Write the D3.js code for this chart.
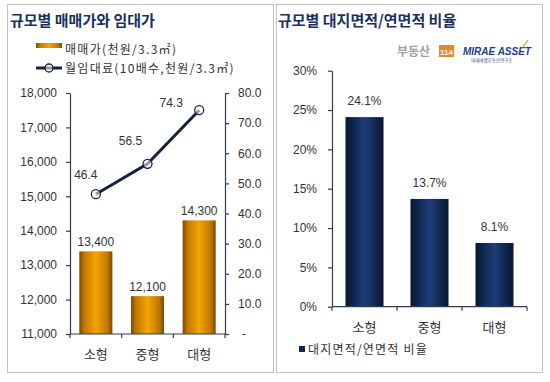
<!DOCTYPE html>
<html><head><meta charset="utf-8">
<script src="https://cdn.jsdelivr.net/npm/d3@7"></script>
<style>
body{margin:0;background:#fff;}
svg{display:block;font-family:"Liberation Sans","Noto Sans CJK KR",sans-serif;}
</style></head>
<body>
<svg id="c" width="550" height="382"></svg>
<script>
const categories = ["소형", "중형", "대형"];
const salePrice = [13400, 12100, 14300];
const rent10x = [46.4, 56.5, 74.3];
const landRatio = [0.241, 0.137, 0.081];
const leftTicks = [11000, 12000, 13000, 14000, 15000, 16000, 17000, 18000];
const rightTicks = [0, 10, 20, 30, 40, 50, 60, 70, 80];
const ratioTicks = [0, 0.05, 0.10, 0.15, 0.20, 0.25, 0.30];

const svg = d3.select("#c");
const defs = svg.append("defs");
function hgrad(id, stops){
  const g = defs.append("linearGradient").attr("id", id).attr("x1","0").attr("x2","1").attr("y1","0").attr("y2","0");
  stops.forEach(s => g.append("stop").attr("offset", s[0]).attr("stop-color", s[1]));
}
hgrad("gOrange", [[0,"#7a4a00"],[0.15,"#c07800"],[0.5,"#f5a400"],[0.85,"#c07800"],[1,"#7a4a00"]]);
hgrad("gNavy", [[0,"#081630"],[0.2,"#112650"],[0.5,"#1f3d75"],[0.8,"#112650"],[1,"#081630"]]);

const axisColor = "#2e3e50";
const textColor = "#333";
const titleColor = "#1a3060";

// panel borders
svg.append("rect").attr("x",7.5).attr("y",4.5).attr("width",266).attr("height",368).attr("fill","none").attr("stroke","#c4c4c4");
svg.append("rect").attr("x",276.5).attr("y",4.5).attr("width",266).attr("height",368).attr("fill","none").attr("stroke","#c4c4c4");

// titles
svg.append("text").attr("x",10).attr("y",26).attr("font-size",15).attr("font-weight","bold").attr("fill",titleColor)
  .attr("font-family","Noto Sans CJK KR").text("규모별 매매가와 임대가");
svg.append("text").attr("x",278).attr("y",26).attr("font-size",15).attr("font-weight","bold").attr("fill",titleColor)
  .attr("font-family","Noto Sans CJK KR").text("규모별 대지면적/연면적 비율");

// ---------- Left chart ----------
const xL = d3.scaleBand().domain(categories).range([70,225]).paddingInner(0.36).paddingOuter(0.18);
const yL = d3.scaleLinear().domain([11000,18000]).range([334,93]);
const yR = d3.scaleLinear().domain([0,80]).range([334,93]);

const left = svg.append("g");
left.selectAll("rect.bar").data(categories).join("rect").attr("class","bar")
  .attr("x", d => xL(d)).attr("width", xL.bandwidth())
  .attr("y", (d,i) => yL(salePrice[i])).attr("height", (d,i) => yL(11000) - yL(salePrice[i]))
  .attr("fill","url(#gOrange)");

left.selectAll("text.bl").data(categories).join("text").attr("class","bl")
  .attr("x", d => xL(d) + xL.bandwidth()/2).attr("y", (d,i) => yL(salePrice[i]) - 5)
  .attr("text-anchor","middle").attr("font-size",12).attr("fill",textColor)
  .text((d,i) => d3.format(",")(salePrice[i]));

function styleAxis(g){
  g.select(".domain").attr("stroke",axisColor).attr("stroke-width",1.2);
  g.selectAll(".tick line").attr("stroke",axisColor).attr("stroke-width",1.2);
  g.selectAll(".tick text").attr("fill",textColor).attr("font-size",12);
}

const axL = left.append("g").attr("transform","translate(70,0)")
  .call(d3.axisLeft(yL).tickValues(leftTicks).tickSize(4).tickPadding(9).tickSizeOuter(0).tickFormat(d3.format(",")));
styleAxis(axL);
const axR = left.append("g").attr("transform","translate(225,0)")
  .call(d3.axisRight(yR).tickValues(rightTicks).tickSize(4).tickPadding(9).tickSizeOuter(0).tickFormat(d => d === 0 ? "-" : d.toFixed(1)));
styleAxis(axR);
axR.selectAll(".tick text").filter(d => d === 0).attr("dx", 4);

const axB = left.append("g").attr("transform","translate(0,334)")
  .call(d3.axisBottom(xL).tickSize(0).tickPadding(16));
axB.select(".domain").attr("stroke",axisColor).attr("stroke-width",1.2).attr("d","M70,0H225");
axB.selectAll(".tick text").attr("fill",textColor).attr("font-size",13).attr("font-family","Noto Sans CJK KR");
const sepL = [0,1,2,3].map(i => 70 + i * xL.step());
left.selectAll("line.sep").data(sepL).join("line").attr("class","sep")
  .attr("x1", d => d).attr("x2", d => d).attr("y1",334).attr("y2",338).attr("stroke",axisColor).attr("stroke-width",1.2);

// line
const cx = d => xL(d) + xL.bandwidth()/2;
const line = d3.line().x((d,i) => cx(categories[i])).y(d => yR(d));
left.append("path").datum(rent10x).attr("d", line).attr("fill","none").attr("stroke","#15233a").attr("stroke-width",3);
left.selectAll("circle.pt").data(rent10x).join("circle").attr("class","pt")
  .attr("cx",(d,i) => cx(categories[i])).attr("cy", d => yR(d)).attr("r",4.5)
  .attr("fill","rgba(255,255,255,0.55)").attr("stroke","#15233a").attr("stroke-width",1.3);
const lineLabelOffsets = [[-10,-15],[-17,-19],[-28,-3]];
left.selectAll("text.ll").data(rent10x).join("text").attr("class","ll")
  .attr("x",(d,i) => cx(categories[i]) + lineLabelOffsets[i][0])
  .attr("y",(d,i) => yR(d) + lineLabelOffsets[i][1])
  .attr("text-anchor","middle").attr("font-size",12).attr("fill",textColor)
  .text(d => d.toFixed(1));

// legend
const lg = svg.append("g");
lg.append("rect").attr("x",36).attr("y",43).attr("width",26).attr("height",5).attr("fill","url(#gOrange)");
lg.append("text").attr("x",65).attr("y",54).attr("font-size",12).attr("fill",textColor).attr("font-family","Noto Sans CJK KR")
  .attr("letter-spacing",1.3).text("매매가(천원/3.3㎡)");
lg.append("line").attr("x1",36).attr("x2",62).attr("y1",68).attr("y2",68).attr("stroke","#15233a").attr("stroke-width",3);
lg.append("circle").attr("cx",49).attr("cy",68).attr("r",4).attr("fill","rgba(255,255,255,0.55)").attr("stroke","#15233a").attr("stroke-width",1.3);
lg.append("text").attr("x",65).attr("y",73).attr("font-size",12).attr("fill",textColor).attr("font-family","Noto Sans CJK KR")
  .attr("letter-spacing",1.3).text("월임대료(10배수,천원/3.3㎡)");

// ---------- Right chart ----------
const xB = d3.scaleBand().domain(categories).range([332,527]).paddingInner(0.415).paddingOuter(0.2075);
const yB = d3.scaleLinear().domain([0,0.30]).range([306.7,70.7]);
const right = svg.append("g");
right.selectAll("rect.bar").data(categories).join("rect").attr("class","bar")
  .attr("x", d => xB(d)).attr("width", xB.bandwidth())
  .attr("y", (d,i) => yB(landRatio[i])).attr("height", (d,i) => yB(0) - yB(landRatio[i]))
  .attr("fill","url(#gNavy)");
right.selectAll("text.bl").data(categories).join("text").attr("class","bl")
  .attr("x", d => xB(d) + xB.bandwidth()/2).attr("y", (d,i) => yB(landRatio[i]) - 12)
  .attr("text-anchor","middle").attr("font-size",12).attr("fill",textColor)
  .text((d,i) => (landRatio[i]*100).toFixed(1) + "%");
const axP = right.append("g").attr("transform","translate(332,0)")
  .call(d3.axisLeft(yB).tickValues(ratioTicks).tickSize(4).tickPadding(11).tickSizeOuter(0).tickFormat(d3.format(".0%")));
styleAxis(axP);
const axPB = right.append("g").attr("transform","translate(0,306.7)")
  .call(d3.axisBottom(xB).tickSize(0).tickPadding(16));
axPB.select(".domain").attr("stroke",axisColor).attr("stroke-width",1.2).attr("d","M332,0H527");
axPB.selectAll(".tick text").attr("fill",textColor).attr("font-size",13).attr("font-family","Noto Sans CJK KR");
const sepR = [0,1,2,3].map(i => 332 + i * xB.step());
right.selectAll("line.sep").data(sepR).join("line").attr("class","sep")
  .attr("x1", d => d).attr("x2", d => d).attr("y1",306.7).attr("y2",310.7).attr("stroke",axisColor).attr("stroke-width",1.2);

// right legend
right.append("rect").attr("x",299).attr("y",346).attr("width",6).attr("height",6).attr("fill","#0f2550");
right.append("text").attr("x",308).attr("y",354).attr("font-size",12).attr("fill",textColor).attr("font-family","Noto Sans CJK KR")
  .attr("letter-spacing",1.2).text("대지면적/연면적 비율");

// logos
const logo = svg.append("g");
logo.append("text").attr("x",397).attr("y",56).attr("font-size",12).attr("font-weight","bold").attr("fill","#a0a0a0")
  .attr("font-family","Noto Sans CJK KR").text("부동산");
logo.append("rect").attr("x",439).attr("y",45).attr("width",15).attr("height",12).attr("fill","#e8872a");
logo.append("text").attr("x",446.5).attr("y",54.5).attr("text-anchor","middle").attr("font-size",8).attr("font-weight","bold").attr("fill","#fff").text("114");
logo.append("text").attr("x",463).attr("y",55).attr("font-size",10).attr("font-weight","bold").attr("font-style","italic").attr("fill","#1f3c88").text("MIRAE ASSET");
logo.append("text").attr("x",471).attr("y",62).attr("font-size",4.5).attr("fill","#1f3c88").attr("font-family","Noto Sans CJK KR").text("미래에셋부동산연구소");
logo.append("line").attr("x1",522).attr("y1",48).attr("x2",528).attr("y2",40).attr("stroke","#e8a000").attr("stroke-width",1.2);
</script>
</body></html>
